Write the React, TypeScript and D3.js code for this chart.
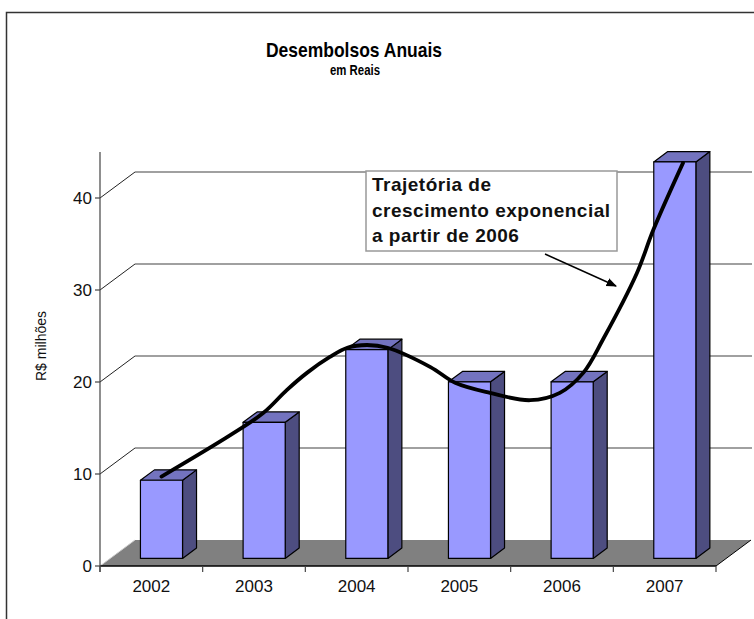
import React from "react";
import * as d3 from "d3";

const years = ["2002", "2003", "2004", "2005", "2006", "2007"];
const values = [8.5, 14.8, 22.7, 19.2, 19.2, 43.1];
const yTicks = [0, 10, 20, 30, 40];
// hand-drawn trajectory (category position, value)
const trendU = [0.5, 1.17, 1.49, 1.72, 1.92, 2.14, 2.31, 2.5, 2.7, 3.12, 3.36, 3.7, 4.09, 4.38, 4.61, 4.8, 5.13, 5.29, 5.58];
const trendV = [8.9, 13.4, 15.8, 18.3, 20.2, 21.9, 22.9, 23.2, 22.9, 20.8, 19.1, 18.0, 17.2, 18.0, 20.2, 23.8, 31.0, 35.7, 43.0];
const title = "Desembolsos Anuais";
const subtitle = "em Reais";
const yLabel = "R$ milhões";
const noteLines = ["Trajetória de", "crescimento exponencial", "a partir de 2006"];

const FONT = "'Liberation Sans', Arial, Helvetica, sans-serif";

export default function App() {
  const W = 754, H = 619;
  const X0 = 100, X1 = 716;
  const DX = 35, DY = -26; // depth offset of back wall
  const fFront = 0.29, fBack = 0.69;

  const x = d3.scaleBand<string>().domain(years).range([X0, X1]);
  const y = d3.scaleLinear().domain([0, 45]).range([566, 152]);
  const step = x.step();
  const barW = step * 0.41;

  const floorY = y(0);

  const bars = years.map((yr, i) => {
    const c = (x(yr) as number) + step / 2;
    const v = values[i];
    const xlF = c - barW / 2 + DX * fFront;
    const xrF = c + barW / 2 + DX * fFront;
    const xlB = c - barW / 2 + DX * fBack;
    const xrB = c + barW / 2 + DX * fBack;
    const tF = y(v) + DY * fFront;
    const bF = y(0) + DY * fFront;
    const tB = y(v) + DY * fBack;
    const bB = y(0) + DY * fBack;
    return { yr, xlF, xrF, xlB, xrB, tF, bF, tB, bB };
  });

  const trendPts: [number, number][] = trendU.map((u, i) => [
    X0 + u * step + DX * 0.29,
    y(trendV[i]) + DY * 0.29,
  ]);
  const trendPath = d3.line().curve(d3.curveCatmullRom.alpha(0.5))(trendPts) || "";

  const boundaries = d3.range(years.length + 1).map((i) => X0 + i * step);

  return (
    <svg
      width={W}
      height={H}
      style={{ position: "absolute", left: 0, top: 0, background: "#fff" }}
      fontFamily={FONT}
    >
      <defs>
        <marker id="ah" viewBox="0 0 10 10" refX="9" refY="5" markerWidth="7" markerHeight="7" orient="auto">
          <path d="M0,1 L10,5 L0,9 z" fill="#000" />
        </marker>
      </defs>
      {/* frame */}
      <rect x={6.5} y={12.5} width={800} height={700} fill="#fff" stroke="#333" strokeWidth={1.5} />

      {/* titles */}
      <text x={354} y={57} textAnchor="middle" fontSize={21} fontWeight="bold" textLength={176} lengthAdjust="spacingAndGlyphs">
        {title}
      </text>
      <text x={355} y={75} textAnchor="middle" fontSize={14.5} fontWeight="bold" textLength={50} lengthAdjust="spacingAndGlyphs">
        {subtitle}
      </text>

      {/* floor */}
      <polygon
        points={`${X0},${floorY} ${X1},${floorY} ${X1 + DX},${floorY + DY} ${X0 + DX},${floorY + DY}`}
        fill="#808080"
      />
      <line x1={X0} y1={floorY} x2={X0 + DX} y2={floorY + DY} stroke="#ccc" strokeWidth={1} />
      <line x1={X1} y1={floorY} x2={X1 + DX} y2={floorY + DY} stroke="#000" strokeWidth={1} />
      <line x1={X0} y1={floorY} x2={X1} y2={floorY} stroke="#000" strokeWidth={1.5} />

      {/* gridlines */}
      {yTicks.filter((t) => t > 0).map((t) => (
        <g key={t}>
          <line x1={X0} y1={y(t)} x2={X0 + DX} y2={y(t) + DY} stroke="#222" strokeWidth={1} />
          <line x1={X0 + DX} y1={y(t) + DY} x2={X1 + DX + 1} y2={y(t) + DY} stroke="#808080" strokeWidth={1.5} />
        </g>
      ))}

      {/* y axis */}
      <line x1={X0} y1={y(45)} x2={X0} y2={floorY + 6} stroke="#444" strokeWidth={1.2} />
      {yTicks.map((t) => (
        <g key={t}>
          <line x1={X0 - 5} y1={y(t)} x2={X0} y2={y(t)} stroke="#444" strokeWidth={1.2} />
          <text x={X0 - 8} y={y(t)} dy="0.35em" textAnchor="end" fontSize={17} fill="#111">
            {t}
          </text>
        </g>
      ))}
      <text
        transform={`translate(46,346) rotate(-90)`}
        textAnchor="middle"
        fontSize={14}
        fill="#111"
      >
        {yLabel}
      </text>

      {/* x ticks & labels */}
      {boundaries.map((bx, i) => (
        <line key={i} x1={bx} y1={floorY} x2={bx} y2={floorY + 6} stroke="#444" strokeWidth={1.2} />
      ))}
      {years.map((yr) => (
        <text key={yr} x={(x(yr) as number) + step / 2} y={592} textAnchor="middle" fontSize={17} fill="#111">
          {yr}
        </text>
      ))}

      {/* bars */}
      {bars.map((b) => (
        <g key={b.yr} stroke="#000" strokeWidth={1.2} strokeLinejoin="round">
          <polygon points={`${b.xrF},${b.tF} ${b.xrB},${b.tB} ${b.xrB},${b.bB} ${b.xrF},${b.bF}`} fill="#4D4D80" />
          <polygon points={`${b.xlF},${b.tF} ${b.xrF},${b.tF} ${b.xrB},${b.tB} ${b.xlB},${b.tB}`} fill="#7373BF" />
          <rect x={b.xlF} y={b.tF} width={b.xrF - b.xlF} height={b.bF - b.tF} fill="#9999FF" />
        </g>
      ))}

      {/* trajectory */}
      <path d={trendPath} fill="none" stroke="#000" strokeWidth={3.8} strokeLinecap="round" />

      {/* annotation */}
      <rect x={366} y={171} width={251} height={80} fill="#fff" stroke="#999" strokeWidth={1.5} />
      {noteLines.map((l, i) => (
        <text key={i} x={372} y={191 + i * 25.5} fontSize={19} fontWeight="bold" letterSpacing={0.5} fill="#111">
          {l}
        </text>
      ))}
      <line x1={545} y1={254} x2={616} y2={286} stroke="#000" strokeWidth={1.5} markerEnd="url(#ah)" />
    </svg>
  );
}
